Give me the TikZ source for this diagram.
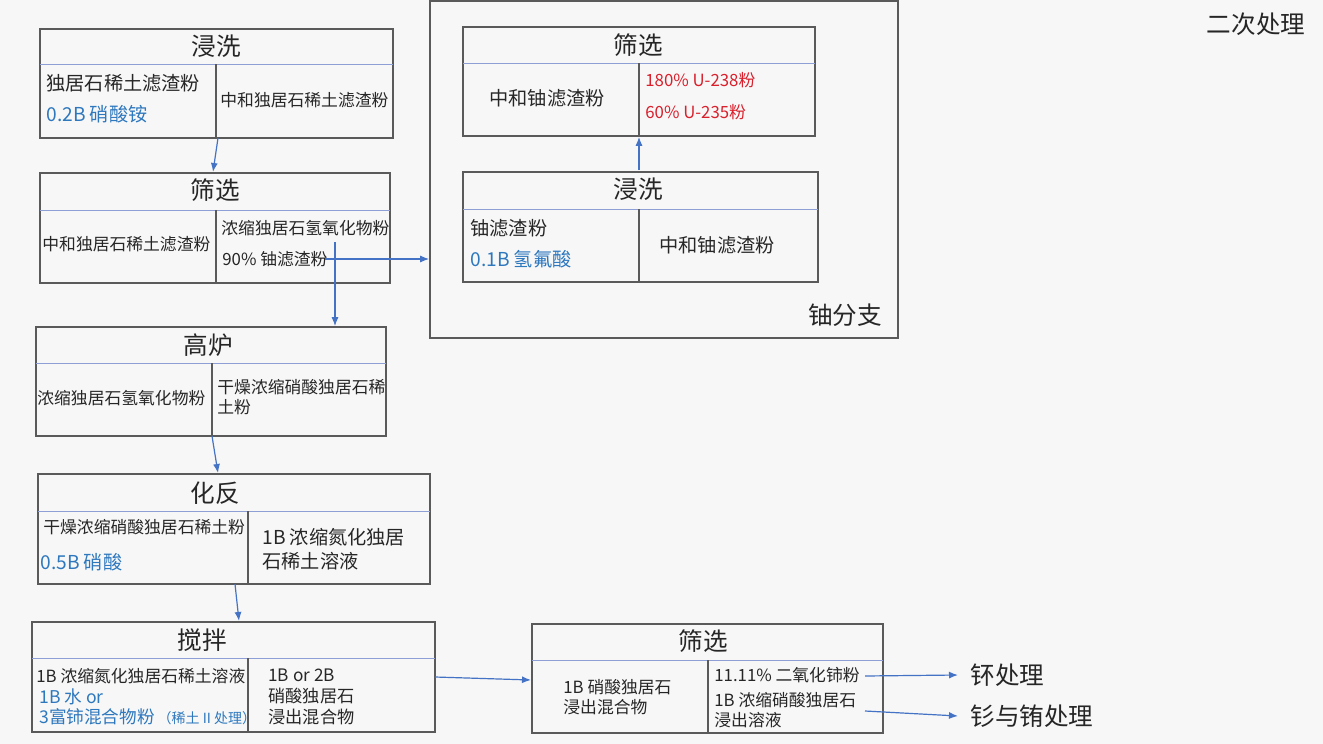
\documentclass[tikz,border=0pt]{standalone}
\usepackage{fontspec}
\setmainfont{Noto Sans CJK SC}
\usetikzlibrary{arrows.meta,fit}
\definecolor{bg}{HTML}{F7F7F7}
\definecolor{frame}{HTML}{5A5A5A}
\definecolor{hdrline}{HTML}{8E9FD6}
\definecolor{arrblue}{HTML}{4472C4}
\definecolor{txtblue}{HTML}{2E78BE}
\definecolor{txtred}{HTML}{D9202C}
\definecolor{txt}{HTML}{262626}
\tikzset{
  x=0.5pt, y=-0.5pt,
  procbox/.style={draw=frame, line width=0.8pt, inner sep=0pt},
  hdr/.style={draw=hdrline, line width=0.5pt},
  divl/.style={draw=frame, line width=0.6pt},
  ttl/.style={font=\fontsize{12.3}{14}\selectfont, text=txt, inner sep=0pt},
  bodyL/.style={font=\fontsize{9.6}{12}\selectfont, text=txt, inner sep=0pt, anchor=west},
  bodyS/.style={font=\fontsize{8.4}{10}\selectfont, text=txt, inner sep=0pt, anchor=west, align=left},
  blueL/.style={bodyL, text=txtblue},
  redS/.style={bodyS, text=txtred},
  arr/.style={draw=arrblue, line width=0.6pt, -{Latex[length=4.5pt,width=3.5pt]}},
}
\begin{document}
\begin{tikzpicture}
\fill[bg] (0,0) rectangle (1323,744);
\useasboundingbox (0,0) rectangle (1323,744);

% ---------- Box 1: 浸洗 ----------
\node[procbox, fit={(40,29) (393,138)}] (b1) {};
\draw[hdr] (40,64) -- (393,64);
\draw[divl] (216,64) -- (216,138);
\node[ttl] (b1t) at (216,46) {浸洗};
\node[bodyL] (b1a) at (46,83) {独居石稀土滤渣粉};
\node[blueL] (b1b) at (46,114) {0.2B 硝酸铵};
\node[bodyS] (b1c) at (220,100) {中和独居石稀土滤渣粉};

% ---------- Box 2: 筛选 ----------
\node[procbox, fit={(40,173) (390,283)}] (b2) {};
\draw[hdr] (40,210) -- (390,210);
\draw[divl] (216,210) -- (216,283);
\node[ttl] (b2t) at (215,190) {筛选};
\node[bodyS] (b2a) at (42,244) {中和独居石稀土滤渣粉};
\node[bodyS] (b2b) at (221,228) {浓缩独居石氢氧化物粉};
\node[bodyS] (b2c) at (222,259) {90\% 铀滤渣粉};

% ---------- Box 3: 高炉 ----------
\node[procbox, fit={(36,327) (386,436)}] (b3) {};
\draw[hdr] (36,363) -- (386,363);
\draw[divl] (212,363) -- (212,436);
\node[ttl] (b3t) at (208,345) {高炉};
\node[bodyS] (b3a) at (37,398) {浓缩独居石氢氧化物粉};
\node[bodyS] (b3b) at (217,397) {干燥浓缩硝酸独居石稀\\土粉};

% ---------- Box 4: 化反 ----------
\node[procbox, fit={(38,474) (430,584)}] (b4) {};
\draw[hdr] (38,511) -- (430,511);
\draw[divl] (248,511) -- (248,584);
\node[ttl] (b4t) at (215,493) {化反};
\node[bodyS] (b4a) at (43,527) {干燥浓缩硝酸独居石稀土粉};
\node[blueL] (b4b) at (40,562) {0.5B 硝酸};
\node[bodyL, align=left] (b4c) at (262,549) {1B 浓缩氮化独居\\石稀土溶液};

% ---------- Box 5: 搅拌 ----------
\node[procbox, fit={(32,622) (435,732)}] (b5) {};
\draw[hdr] (32,658) -- (435,658);
\draw[divl] (248,658) -- (248,732);
\node[ttl] (b5t) at (202,640) {搅拌};
\node[bodyS] (b5a) at (36,676) {1B 浓缩氮化独居石稀土溶液};
\node[bodyS, text=txtblue, font=\fontsize{8.8}{10}\selectfont] (b5b) at (39,697) {1B 水 or};
\node[bodyS, text=txtblue, font=\fontsize{8.8}{10}\selectfont] (b5c) at (39,717) {3富铈混合物粉\,{\fontsize{7}{8}\selectfont（稀土 II 处理）}};
\node[bodyS, font=\fontsize{8.6}{10.5}\selectfont] (b5d) at (268,697) {1B or 2B\\硝酸独居石\\浸出混合物};

% ---------- Box 6: 筛选 ----------
\node[procbox, fit={(532,624) (883,733)}] (b6) {};
\draw[hdr] (532,660) -- (883,660);
\draw[divl] (708,660) -- (708,733);
\node[ttl] (b6t) at (703,641) {筛选};
\node[bodyS] (b6a) at (563,697) {1B 硝酸独居石\\浸出混合物};
\node[bodyS] (b6b) at (714,675) {11.11\% 二氧化铈粉};
\node[bodyS] (b6c) at (714,710) {1B 浓缩硝酸独居石\\浸出溶液};
\node[ttl, anchor=west] (pu) at (970,675) {钚处理};
\node[ttl, anchor=west] (sm) at (970,716) {钐与铕处理};

% ---------- Uranium branch ----------
\node[procbox, fit={(430,1) (898,338)}] (ub) {};
\node[ttl] (ubl) at (845,315) {铀分支};

\node[procbox, fit={(463,27) (815,136)}] (u1) {};
\draw[hdr] (463,63) -- (815,63);
\draw[divl] (639,63) -- (639,136);
\node[ttl] (u1t) at (638,45) {筛选};
\node[bodyL] (u1a) at (489,98) {中和铀滤渣粉};
\node[redS] (u1b) at (645,80) {180\% U-238粉};
\node[redS] (u1c) at (645,112) {60\% U-235粉};

\node[procbox, fit={(463,172) (818,282)}] (u2) {};
\draw[hdr] (463,209) -- (818,209);
\draw[divl] (639,209) -- (639,282);
\node[ttl] (u2t) at (638,189) {浸洗};
\node[bodyL] (u2a) at (470,228) {铀滤渣粉};
\node[blueL] (u2b) at (470,259) {0.1B 氢氟酸};
\node[bodyL] (u2c) at (659,245) {中和铀滤渣粉};

\node[ttl] (sec) at (1256,24) {二次处理};

% ---------- connectors ----------
\coordinate (c1s) at (218,138);
\coordinate (c1e) at (213,172);
\draw[arr] (c1s) -- (c1e);
\coordinate (c2s) at (325,259);
\draw[arr] (c2s) -- (ub.west |- c2s);
\coordinate (c3s) at (335,242);
\draw[arr] (c3s) -- (c3s |- b3.north);
\coordinate (c4s) at (212,436);
\coordinate (c4e) at (218,473);
\draw[arr] (c4s) -- (c4e);
\coordinate (c5s) at (235,584);
\coordinate (c5e) at (239,621);
\draw[arr] (c5s) -- (c5e);
\coordinate (c6s) at (435,677);
\coordinate (c6e) at (531,680);
\draw[arr] (c6s) -- (c6e);
\coordinate (c7s) at (865,676);
\draw[arr] (c7s) -- ([xshift=-6pt]pu.west);
\coordinate (c8s) at (865,711);
\draw[arr] (c8s) -- ([xshift=-6pt]sm.west);
\coordinate (c9s) at (639,170);
\draw[arr] (c9s) -- (c9s |- u1.south);
\end{tikzpicture}
\end{document}
